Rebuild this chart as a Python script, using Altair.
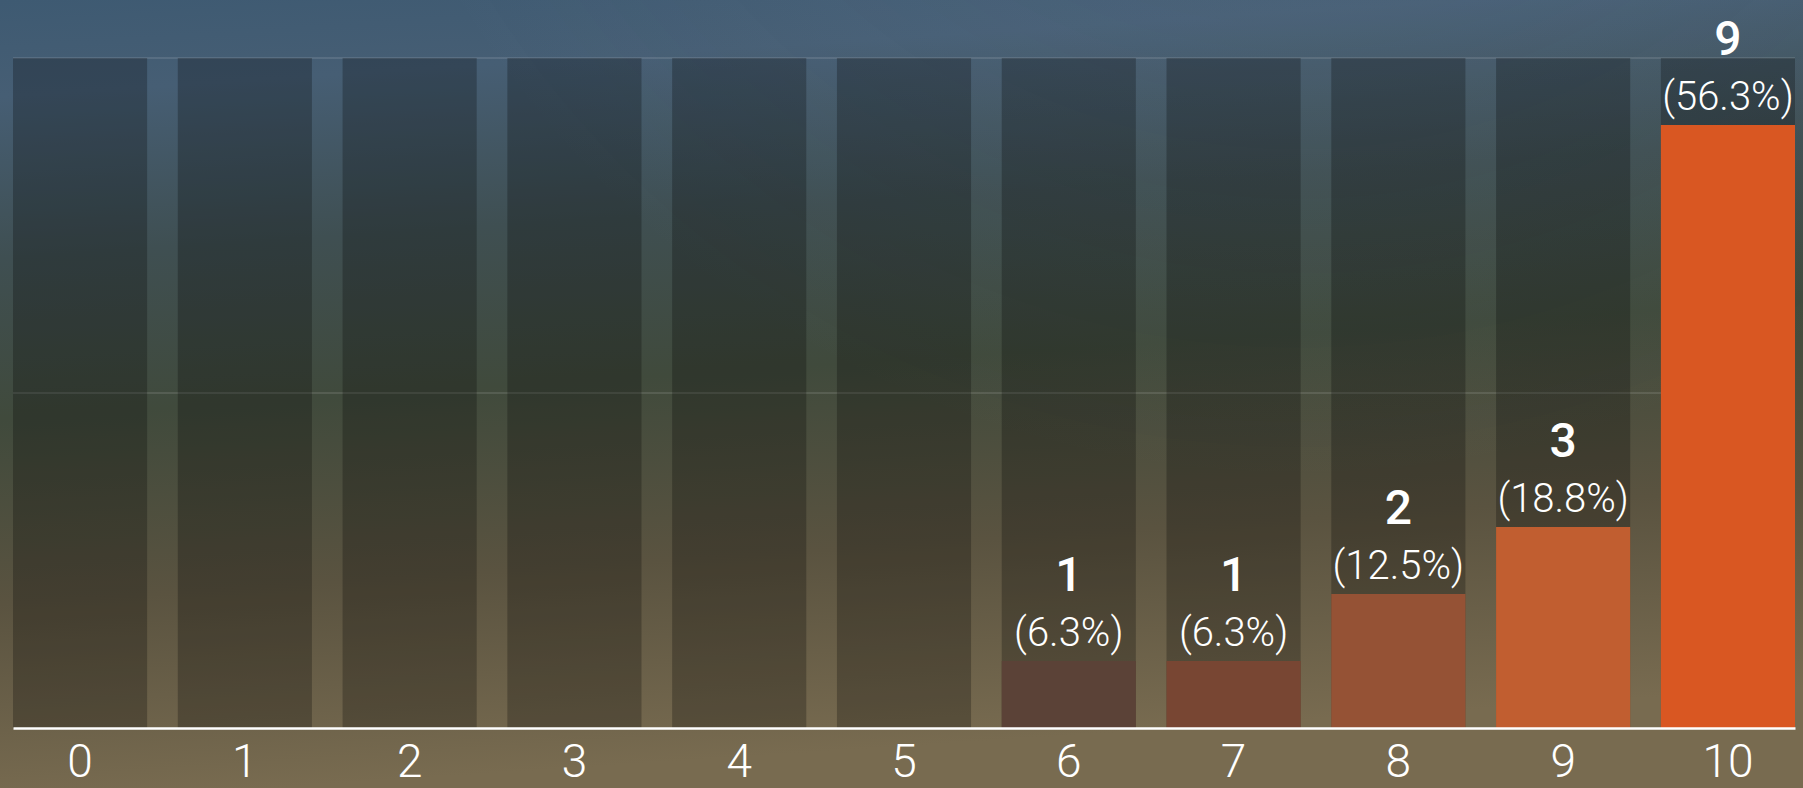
import altair as alt
import pandas as pd

# ---- data ----
categories = ["0", "1", "2", "3", "4", "5", "6", "7", "8", "9", "10"]
counts = [0, 0, 0, 0, 0, 0, 1, 1, 2, 3, 9]
percent_labels = ["(0.0%)", "(0.0%)", "(0.0%)", "(0.0%)", "(0.0%)", "(0.0%)",
                  "(6.3%)", "(6.3%)", "(12.5%)", "(18.8%)", "(56.3%)"]
y_max = 10
grid_values = [5, 10]

# ---- styles ----
bar_colors = ["#4a3b33", "#4f3d34", "#533e35", "#573f36", "#5a4036", "#5b4137",
              "#5b4237", "#784633", "#955235", "#c15e30", "#d95722"]
bg_stops = [(0.0, "#3e5a72"), (0.12, "#465e74"), (0.32, "#3f4f52"),
            (0.52, "#404a3c"), (0.75, "#5a5340"), (1.0, "#786b50")]
top_glow_stops = [(0.0, "rgba(135,155,185,0.22)"), (0.5, "rgba(130,150,180,0.08)"),
                  (1.0, "rgba(130,150,180,0)")]

W, H = 1782, 670
PAD_L, PAD_T = 13, 58
PAD_R = 1803 - PAD_L - W
PAD_B = 788 - PAD_T - H

df = pd.DataFrame({
    "category": categories,
    "count": counts,
    "pct": percent_labels,
    "full": [y_max] * len(categories),
})

y_scale = alt.Scale(domain=[0, y_max], nice=False, zero=True)
x_enc = alt.X(
    "category:N", sort=categories,
    scale=alt.Scale(paddingInner=0.186, paddingOuter=0),
    axis=alt.Axis(title=None, labelAngle=0, ticks=False, grid=False,
                  domainColor="white", domainWidth=2.5,
                  labelColor="white", labelFont="Roboto", labelFontSize=46,
                  labelFontWeight=300, labelPadding=12, zindex=1),
)

gradient = alt.LinearGradient(
    gradient="linear",
    stops=[alt.GradientStop(offset=o, color=c) for o, c in bg_stops],
    x1=0, x2=0.15, y1=0, y2=1,
)
top_glow = alt.RadialGradient(
    gradient="radial",
    stops=[alt.GradientStop(offset=o, color=c) for o, c in top_glow_stops],
    x1=0.72, y1=0.0, r1=0, x2=0.72, y2=0.0, r2=0.55,
)

background = alt.Chart(pd.DataFrame({"a": [0]})).mark_rect(fill=gradient).encode(
    x=alt.value(-PAD_L), x2=alt.value(W + PAD_R),
    y=alt.value(-PAD_T), y2=alt.value(H + PAD_B),
)
glow = alt.Chart(pd.DataFrame({"a": [0]})).mark_rect(fill=top_glow).encode(
    x=alt.value(-PAD_L), x2=alt.value(W + PAD_R),
    y=alt.value(-PAD_T), y2=alt.value(H + PAD_B),
)

grid = alt.Chart(pd.DataFrame({"v": grid_values})).mark_rule(
    color="white", opacity=0.22, strokeWidth=1
).encode(y=alt.Y("v:Q", scale=y_scale, axis=None))

base = alt.Chart(df)

track = base.mark_bar(color="black", opacity=0.25).encode(
    x=x_enc, y=alt.Y("full:Q", scale=y_scale, axis=None)
)

bars = base.mark_bar(opacity=1).encode(
    x=x_enc,
    y=alt.Y("count:Q", scale=y_scale, axis=None),
    color=alt.Color("category:N", sort=categories,
                    scale=alt.Scale(domain=categories, range=bar_colors),
                    legend=None),
)

count_text = base.transform_filter("datum.count > 0").mark_text(
    color="white", font="Roboto", fontSize=48, fontWeight=500,
    baseline="alphabetic", dy=-70,
).encode(x=x_enc, y=alt.Y("count:Q", scale=y_scale, axis=None), text="count:Q")

pct_text = base.transform_filter("datum.count > 0").mark_text(
    color="white", font="Roboto", fontSize=40, fontWeight=300,
    baseline="alphabetic", dy=-15,
).encode(x=x_enc, y=alt.Y("count:Q", scale=y_scale, axis=None), text="pct:N")

chart = alt.layer(background, glow, grid, track, bars, count_text, pct_text).properties(
    width=W, height=H,
    padding={"left": PAD_L, "top": PAD_T, "right": PAD_R, "bottom": PAD_B},
    autosize=alt.AutoSizeParams(type="none"),
    background="#4d5a58",
).configure_view(stroke=None)

chart.save("out.html", embed_options={"renderer": "svg", "actions": False})
